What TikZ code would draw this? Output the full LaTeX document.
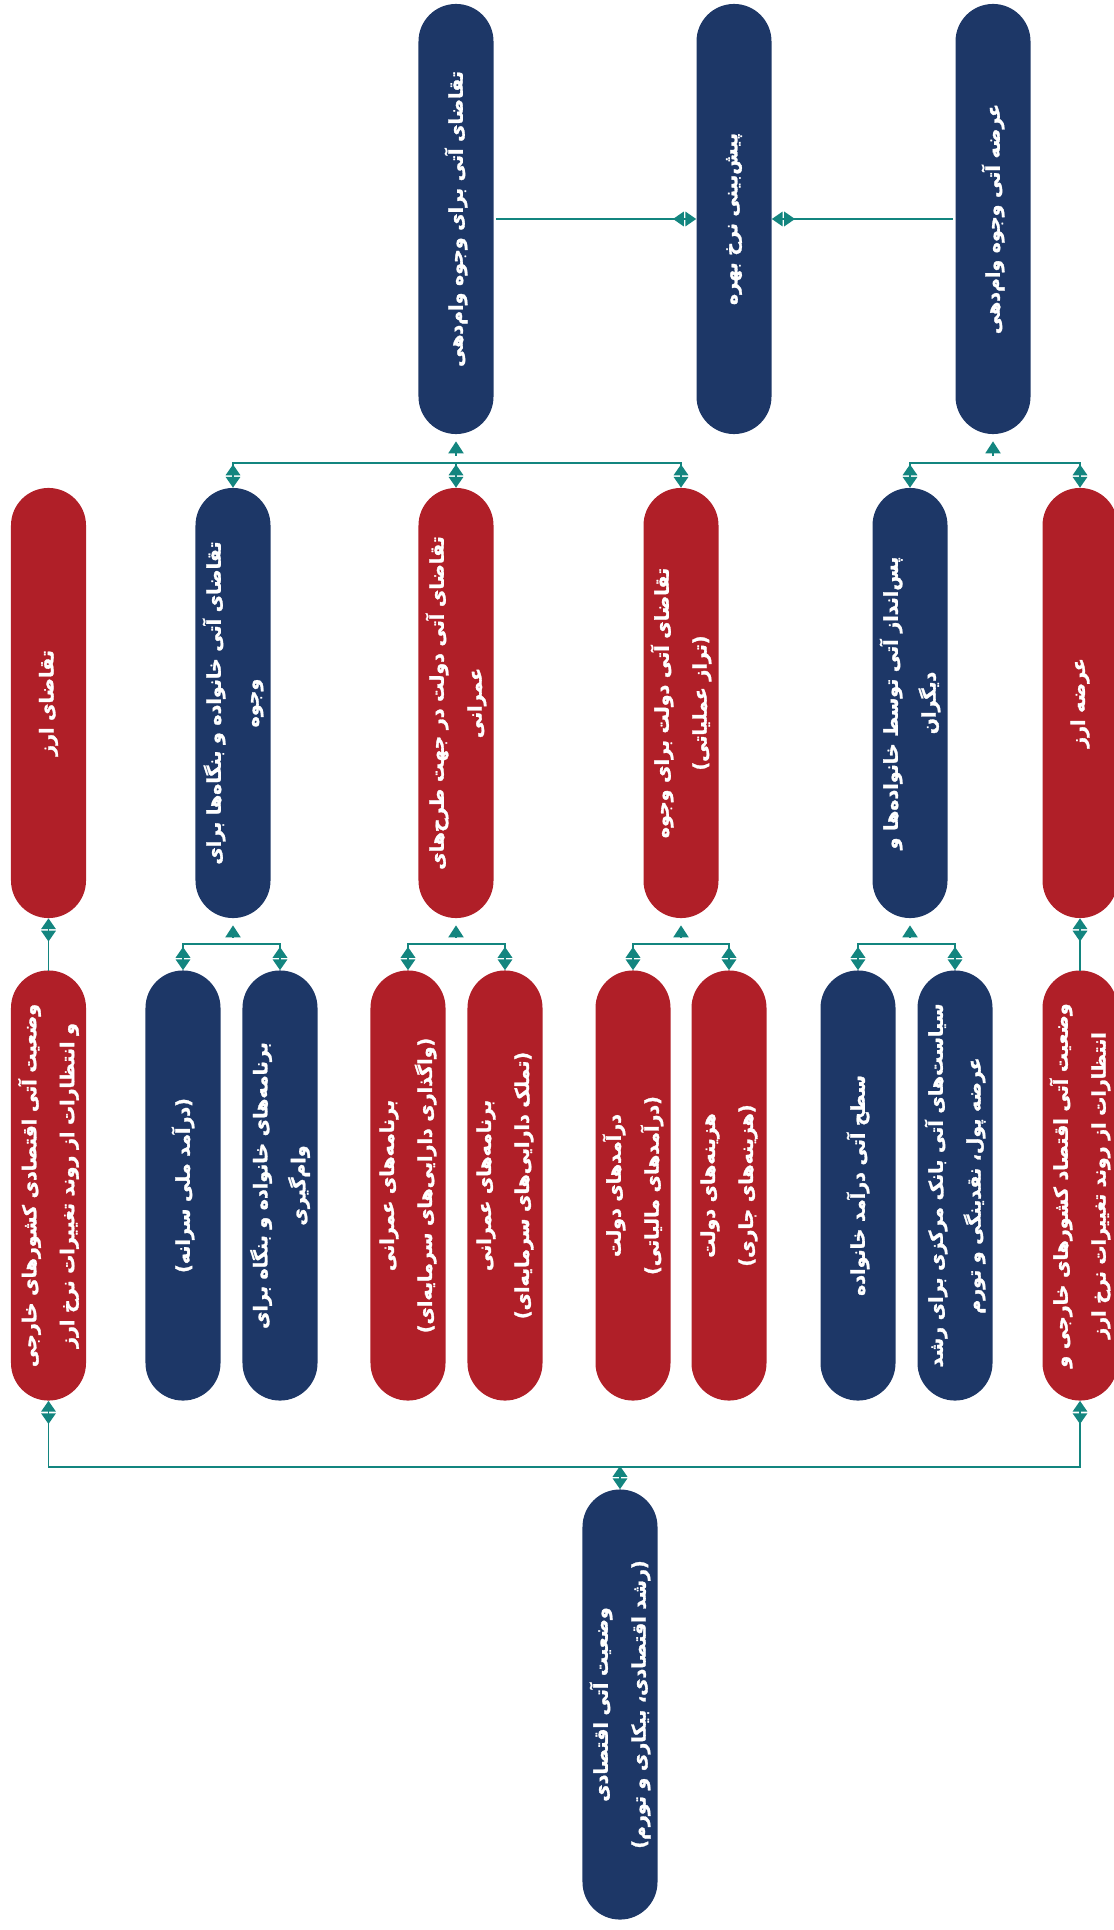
\documentclass[tikz,border=0pt]{standalone}
\usepackage{fontspec}
\usetikzlibrary{arrows.meta}
\TeXXeTstate=1
\newfontfamily\fafont[Script=Arabic,BoldFeatures={FakeBold=1.6}]{DejaVu Sans}
\newcommand{\fa}[1]{\beginR #1\endR}
\definecolor{navy}{HTML}{1D3767}
\definecolor{crimson}{HTML}{B01F28}
\definecolor{teal2}{HTML}{13857F}

\begin{document}
\begin{tikzpicture}[x=0.025cm,y=-0.025cm]
\tikzstyle{pill}=[rotate=90,rounded corners=0.9375cm,minimum width=10.75cm,minimum height=1.875cm,inner sep=0pt,align=center,text=white,font=\fafont\bfseries\fontsize{13.5}{27}\selectfont]
\tikzstyle{blue pill}=[pill,fill=navy]
\tikzstyle{red pill}=[pill,fill=crimson]

\tikzset{
	wire/.style={teal2,line width=1.4pt,line cap=rect},
	link/.style={wire,-{Triangle[reversed,width=0.36cm,length=0.27cm,sep=0.04cm]Triangle[width=0.36cm,length=0.27cm]}},
	feed/.style={wire,shorten >=0.175cm,shorten <=0.2cm,-{Triangle[width=0.375cm,length=0.3cm]}}
}
\useasboundingbox (0,0) rectangle (1113,1930);

    % top row
    \node[blue pill] (lend) at (456,219) {\fa{تقاضای آتی برای وجوه وام‌دهی}};
    \node[blue pill] (rate) at (734,219) {\fa{پیش‌بینی نرخ بهره}};
    \node[blue pill] (supl) at (993,219) {\fa{عرضه آتی وجوه وام‌دهی}};

    % middle row
    \node[red pill] (fxd) at (48.5,703) {\fa{تقاضای ارز}};
    \node[blue pill] (hhd) at (233,703) {\fa{تقاضای آتی خانواده و بنگاه‌ها برای}\\\fa{وجوه}};
    \node[red pill] (gvi) at (456,703) {\fa{تقاضای آتی دولت در جهت طرح‌های}\\\fa{عمرانی}};
    \node[red pill] (gvo) at (681,703) {\fa{تقاضای آتی دولت برای وجوه}\\\fa{(تراز عملیاتی)}};
    \node[blue pill] (sav) at (910,703) {\fa{پس‌انداز آتی توسط خانواده‌ها و}\\\fa{دیگران}};
    \node[red pill] (fxs) at (1080,703) {\fa{عرضه ارز}};

    % bottom row
    \node[red pill] (frl) at (48.5,1185.5) {\fa{وضعیت آتی اقتصادی کشورهای خارجی}\\\fa{و انتظارات از روند تغییرات نرخ ارز}};
    \node[blue pill] (inc) at (183,1185.5) {\fa{(درآمد ملی سرانه)}};
    \node[blue pill] (hhp) at (280,1185.5) {\fa{برنامه‌های خانواده و بنگاه برای}\\\fa{وام‌گیری}};
    \node[red pill] (ipa) at (408,1185.5) {\fa{برنامه‌های عمرانی}\\\fa{(واگذاری دارایی‌های سرمایه‌ای)}};
    \node[red pill] (ipb) at (505,1185.5) {\fa{برنامه‌های عمرانی}\\\fa{(تملک دارایی‌های سرمایه‌ای)}};
    \node[red pill] (rev) at (633,1185.5) {\fa{درآمدهای دولت}\\\fa{(درآمدهای مالیاتی)}};
    \node[red pill] (exp) at (729,1185.5) {\fa{هزینه‌های دولت}\\\fa{(هزینه‌های جاری)}};
    \node[blue pill] (hin) at (858,1185.5) {\fa{سطح آتی درآمد خانواده}};
    \node[blue pill] (cbp) at (955,1185.5) {\fa{سیاست‌های آتی بانک مرکزی برای رشد}\\\fa{عرضه پول، نقدینگی و تورم}};
    \node[red pill] (frr) at (1080,1185.5) {\fa{وضعیت آتی اقتصاد کشورهای خارجی و}\\\fa{انتظارات از روند تغییرات نرخ ارز}};

    % base
    \node[blue pill] (eco) at (620,1704.5) {\fa{وضعیت آتی اقتصادی}\\\fa{(رشد اقتصادی، بیکاری و تورم)}};

    % bus points
    \coordinate (t1a) at (233,463);  \coordinate (t1b) at (456,463);  \coordinate (t1c) at (681,463);
    \coordinate (t2a) at (910,463);  \coordinate (t2b) at (993,463);  \coordinate (t2c) at (1080,463);
    \coordinate (m2a) at (183,944);  \coordinate (m2b) at (233,944);  \coordinate (m2c) at (280,944);
    \coordinate (m3a) at (408,944);  \coordinate (m3b) at (456,944);  \coordinate (m3c) at (505,944);
    \coordinate (m4a) at (633,944);  \coordinate (m4b) at (681,944);  \coordinate (m4c) at (729,944);
    \coordinate (m5a) at (858,944);  \coordinate (m5b) at (910,944);  \coordinate (m5c) at (955,944);
    \coordinate (ba) at (48.5,1467); \coordinate (bb) at (620,1467);  \coordinate (bc) at (1080,1467);

    % top links
    \path[link,shorten <=0.075cm] (lend.south) edge (rate.north)
                                  (supl.north) edge (rate.south);

    \draw[wire] (t1a) -- (t1c);
    \draw[wire] (t2a) -- (t2c);
    \path[feed] (t1b) edge (lend.west)
                (t2b) edge (supl.west);
    \path[link] (t1a) edge (hhd.east)
                (t1b) edge (gvi.east)
                (t1c) edge (gvo.east)
                (t2a) edge (sav.east)
                (t2c) edge (fxs.east);

    % middle links
    \draw[wire] (m2a) -- (m2c);
    \draw[wire] (m3a) -- (m3c);
    \draw[wire] (m4a) -- (m4c);
    \draw[wire] (m5a) -- (m5c);
    \path[feed] (m2b) edge (hhd.west)
                (m3b) edge (gvi.west)
                (m4b) edge (gvo.west)
                (m5b) edge (sav.west);
    \path[link] (m2a) edge (inc.east)   (m2c) edge (hhp.east)
                (m3a) edge (ipa.east)   (m3c) edge (ipb.east)
                (m4a) edge (rev.east)   (m4c) edge (exp.east)
                (m5a) edge (hin.east)   (m5c) edge (cbp.east)
                (frl.east) edge (fxd.west)
                (frr.east) edge (fxs.west);

    % bottom bus
    \draw[wire] (ba) -- (bc);
    \path[link] (ba) edge (frl.west)
                (bc) edge (frr.west)
                (bb) edge (eco.east);
\end{tikzpicture}
\end{document}
